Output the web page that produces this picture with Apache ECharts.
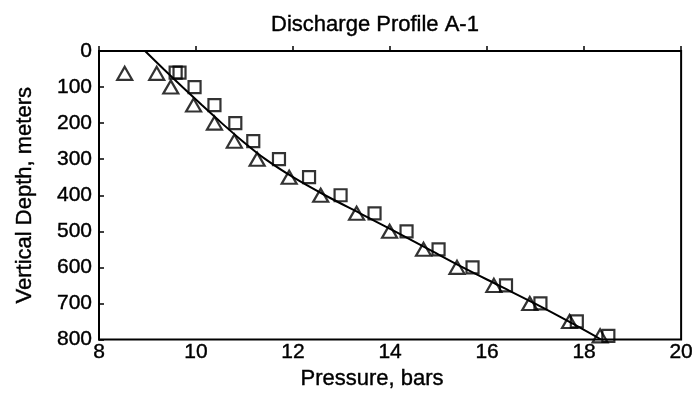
<!DOCTYPE html>
<html>
<head>
<meta charset="utf-8">
<script src="https://cdn.jsdelivr.net/npm/echarts@6/dist/echarts.min.js"></script>
<style>html,body{margin:0;padding:0;background:#fff;}#c{width:696px;height:395px;}</style>
</head>
<body>
<div id="c"></div>
<script>
var xTicks = [8, 10, 12, 14, 16, 18, 20];
var yTicks = [0, 100, 200, 300, 400, 500, 600, 700, 800];

var triDepth = [62, 62, 100, 150, 200, 250, 300, 350, 400, 450, 500, 550, 600, 650, 700, 750, 790];
var triPressure = [8.53, 9.19, 9.48, 9.95, 10.38, 10.79, 11.26, 11.92, 12.57, 13.31, 13.99, 14.69, 15.38, 16.14, 16.88, 17.7, 18.33];

var sqDepth = [60, 60, 100, 150, 200, 250, 300, 350, 400, 450, 500, 550, 600, 650, 700, 750, 790];
var sqPressure = [9.58, 9.66, 9.97, 10.38, 10.81, 11.18, 11.71, 12.33, 12.98, 13.68, 14.34, 15.0, 15.7, 16.39, 17.1, 17.85, 18.5];

var fitDepth = [0, 50, 100, 150, 200, 250, 300, 350, 400, 450, 500, 550, 600, 650, 700, 750, 800];
var fitPressure = [8.95, 9.33, 9.72, 10.12, 10.53, 10.96, 11.43, 12.0, 12.66, 13.38, 14.1, 14.8, 15.5, 16.24, 16.98, 17.68, 18.35];

function pairs(xs, ys) { return xs.map(function (x, i) { return [x, ys[i]]; }); }

var font = 'Liberation Sans, Arial, sans-serif';
var ink = {textBorderColor: '#000', textBorderWidth: 0.4};
var chart = echarts.init(document.getElementById('c'), null, {renderer: 'canvas'});
chart.setOption({
  animation: false,
  backgroundColor: '#fff',
  title: {
    text: 'Discharge Profile A-1',
    left: 370, textAlign: 'center', top: 9,
    textStyle: Object.assign({fontFamily: font, fontSize: 22, fontWeight: 'normal', color: '#000'}, ink)
  },
  grid: {left: 99, right: 12, top: 51, bottom: 53, show: true, borderColor: '#000', borderWidth: 2, backgroundColor: 'transparent'},
  xAxis: {
    type: 'value', min: xTicks[0], max: xTicks[xTicks.length - 1], interval: 2,
    name: 'Pressure, bars', nameLocation: 'middle', nameGap: 14,
    nameTextStyle: Object.assign({fontFamily: font, fontSize: 22, color: '#000', padding: [0, 36, 0, 0]}, ink),
    axisLine: {show: true, lineStyle: {color: '#000', width: 2}},
    axisTick: {show: true, inside: true, length: 5, lineStyle: {color: '#000', width: 1.5}},
    axisLabel: Object.assign({fontFamily: font, fontSize: 21, color: '#000', margin: 2}, ink),
    splitLine: {show: false}
  },
  yAxis: {
    type: 'value', min: yTicks[0], max: yTicks[yTicks.length - 1], interval: 100, inverse: true,
    name: 'Vertical Depth, meters', nameLocation: 'middle', nameGap: 63,
    nameTextStyle: Object.assign({fontFamily: font, fontSize: 22, color: '#000'}, ink),
    axisLine: {show: true, lineStyle: {color: '#000', width: 2}},
    axisTick: {show: true, inside: true, length: 5, lineStyle: {color: '#000', width: 1.5}},
    axisLabel: Object.assign({fontFamily: font, fontSize: 21, color: '#000', margin: 7}, ink),
    splitLine: {show: false}
  },
  series: [
    {
      type: 'line', data: pairs(fitPressure, fitDepth), smooth: 0.3, showSymbol: false,
      lineStyle: {color: '#000', width: 2}, z: 1, silent: true
    },
    {
      type: 'scatter', data: pairs(triPressure, triDepth), symbol: 'triangle', symbolSize: [15, 13],
      itemStyle: {color: 'rgba(255,255,255,0)', borderColor: '#000', borderWidth: 2.2}, clip: false, z: 3
    },
    {
      type: 'scatter', data: pairs(sqPressure, sqDepth), symbol: 'rect', symbolSize: 12,
      itemStyle: {color: 'rgba(255,255,255,0)', borderColor: '#000', borderWidth: 2.2}, clip: false, z: 3
    }
  ]
});
</script>
</body>
</html>
